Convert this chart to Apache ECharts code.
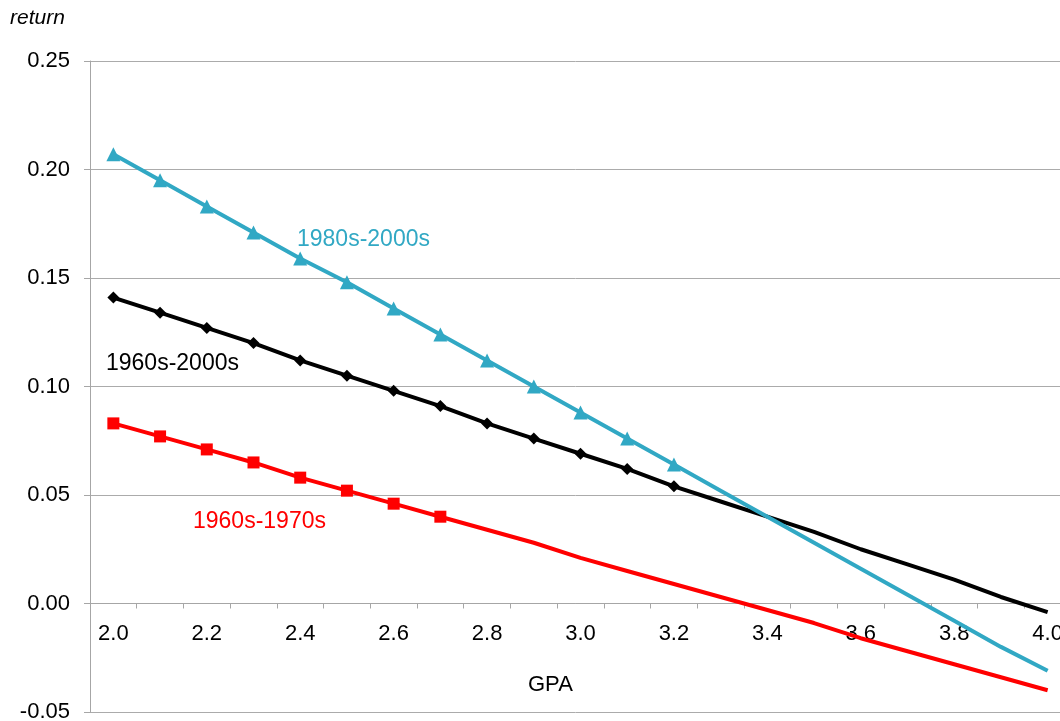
<!DOCTYPE html>
<html><head><meta charset="utf-8">
<script src="https://cdn.jsdelivr.net/npm/echarts@6/dist/echarts.min.js"></script>
<style>html,body{margin:0;padding:0;background:#fff}#c{width:1060px;height:721px}</style>
</head><body><div id="c"></div>
<script>
const gpaCategories = ['2.0','2.1','2.2','2.3','2.4','2.5','2.6','2.7','2.8','2.9','3.0','3.1','3.2','3.3','3.4','3.5','3.6','3.7','3.8','3.9','4.0'];
const return1980s2000s = [0.207,0.195,0.183,0.171,0.159,0.148,0.136,0.124,0.112,0.100,0.088,0.076,0.064,0.052,0.040,0.028,0.016,0.004,-0.008,-0.020,-0.031];
const return1960s2000s = [0.141,0.134,0.127,0.120,0.112,0.105,0.098,0.091,0.083,0.076,0.069,0.062,0.054,0.047,0.040,0.033,0.025,0.018,0.011,0.003,-0.004];
const return1960s1970s = [0.083,0.077,0.071,0.065,0.058,0.052,0.046,0.040,0.034,0.028,0.021,0.015,0.009,0.003,-0.003,-0.009,-0.016,-0.022,-0.028,-0.034,-0.040];
const yTicks = [-0.05, 0.25, 0.05]; // min, max, interval

const FONT = 'Liberation Sans, Arial, sans-serif';
const FS = 22;
function withMarkers(vals, n) {
  return vals.map((v, i) => i < n ? v : { value: v, symbol: 'none' });
}
const chart = echarts.init(document.getElementById('c'));
chart.setOption({
  animation: false,
  grid: { left: 90, top: 61, bottom: 9, right: -11, containLabel: false, outerBoundsMode: 'none' },
  xAxis: {
    type: 'category', data: gpaCategories, boundaryGap: true,
    axisLine: { onZero: true, lineStyle: { color: '#a6a6a6', width: 1 } },
    axisTick: { show: true, interval: 0, length: 5, lineStyle: { color: '#a6a6a6' } },
    axisLabel: { interval: 1, margin: -89, color: '#000', fontSize: FS, fontFamily: FONT },
    splitLine: { show: false }
  },
  yAxis: {
    type: 'value', min: yTicks[0], max: yTicks[1], interval: yTicks[2],
    axisLine: { show: true, lineStyle: { color: '#a6a6a6' } },
    axisTick: { show: true, length: 6, lineStyle: { color: '#a6a6a6' } },
    axisLabel: { margin: 20, color: '#000', fontSize: FS, fontFamily: FONT,
      formatter: v => v.toFixed(2) },
    splitLine: { show: true, lineStyle: { color: '#ababab', width: 1 } }
  },
  series: [
    { name: '1960s-1970s', type: 'line', data: withMarkers(return1960s1970s, 8),
      symbol: 'rect', symbolSize: 12, showAllSymbol: true,
      lineStyle: { color: '#ff0000', width: 4 }, itemStyle: { color: '#ff0000' } },
    { name: '1960s-2000s', type: 'line', data: withMarkers(return1960s2000s, 13),
      symbol: 'diamond', symbolSize: 12, showAllSymbol: true,
      lineStyle: { color: '#000000', width: 4 }, itemStyle: { color: '#000000' } },
    { name: '1980s-2000s', type: 'line', data: withMarkers(return1980s2000s, 13),
      symbol: 'triangle', symbolSize: 14, showAllSymbol: true,
      lineStyle: { color: '#31a8c4', width: 4 }, itemStyle: { color: '#31a8c4' } }
  ],
  graphic: [
    { type: 'text', left: 10, top: 8, style: { text: 'return', font: 'italic 21px ' + FONT, fill: '#000' } },
    { type: 'text', left: 528, top: 674, style: { text: 'GPA', font: FS + 'px ' + FONT, fill: '#000' } },
    { type: 'text', left: 297, top: 228, style: { text: '1980s-2000s', font: '23px ' + FONT, fill: '#31a8c4' } },
    { type: 'text', left: 106, top: 352, style: { text: '1960s-2000s', font: '23px ' + FONT, fill: '#000' } },
    { type: 'text', left: 193, top: 510, style: { text: '1960s-1970s', font: '23px ' + FONT, fill: '#ff0000' } }
  ]
});
</script></body></html>
